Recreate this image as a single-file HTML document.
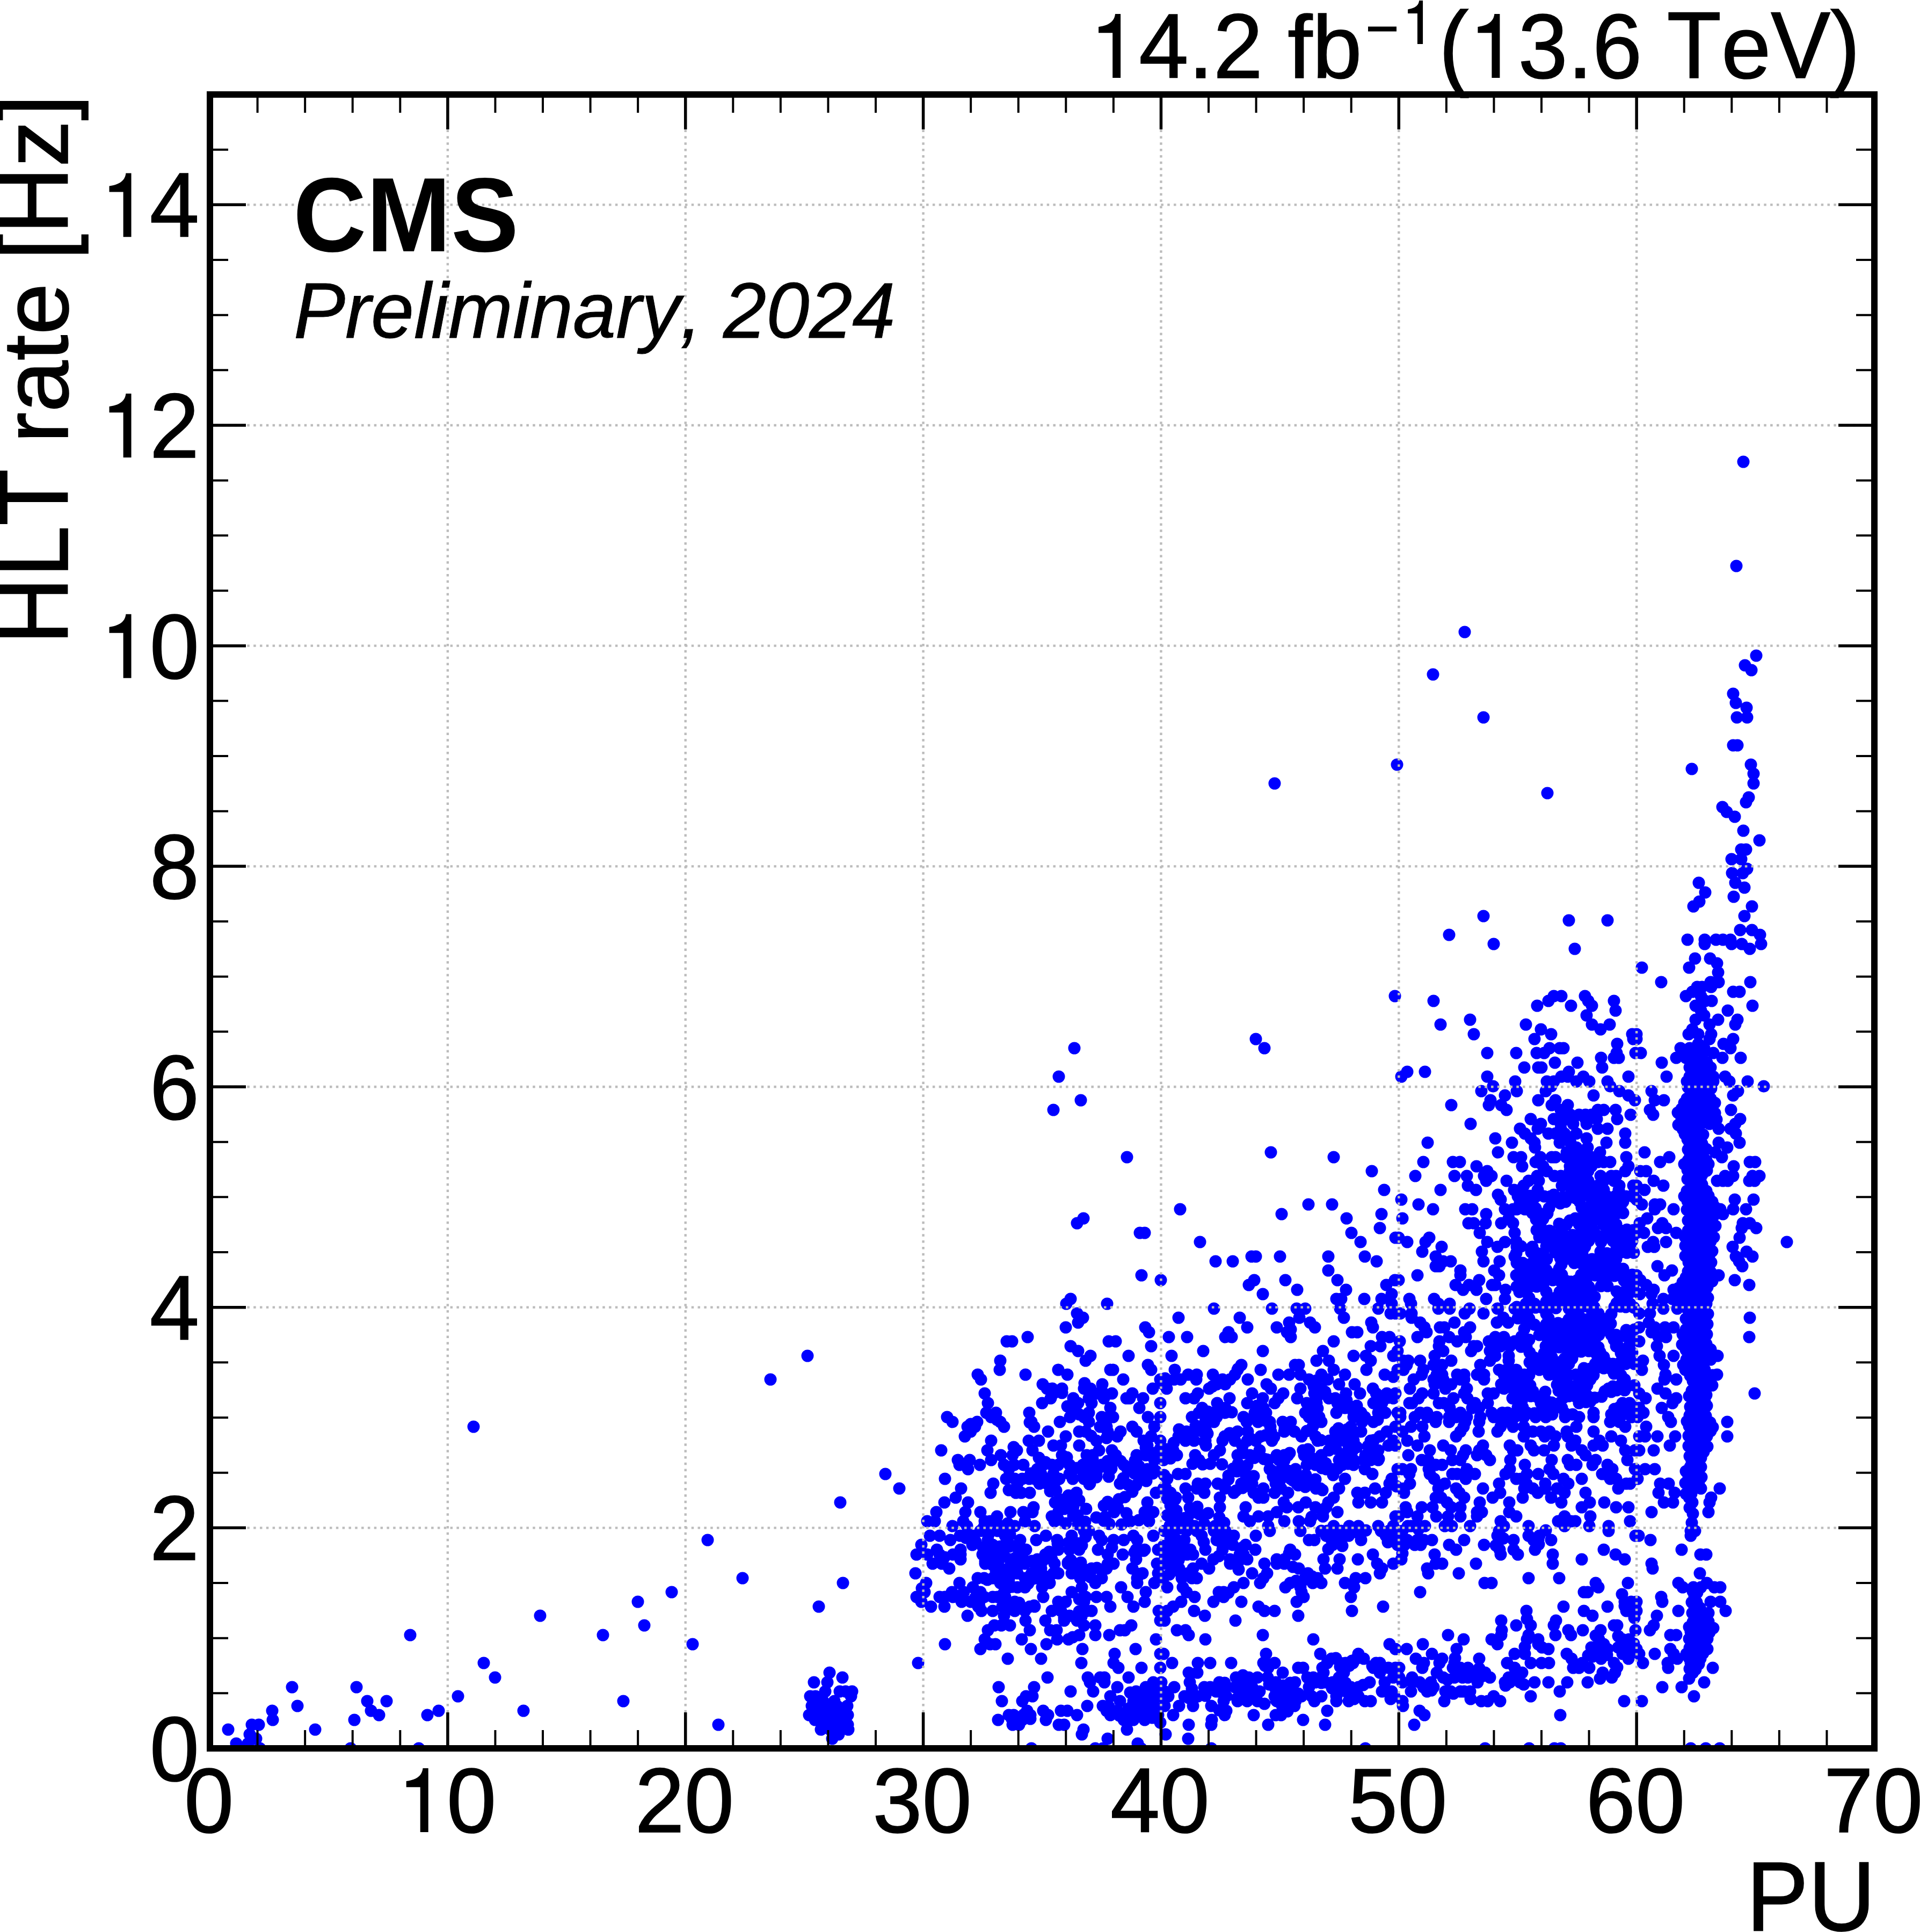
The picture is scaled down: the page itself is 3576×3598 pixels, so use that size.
<!DOCTYPE html>
<html><head><meta charset="utf-8"><title>HLT rate vs PU</title>
<style>html,body{margin:0;padding:0;background:#fff}body{width:3576px;height:3598px;overflow:hidden}svg{display:block}text{font-family:"Liberation Sans",sans-serif;fill:#000;font-kerning:none;font-feature-settings:"kern" 0,"liga" 0;white-space:pre}</style>
</head><body>
<svg width="3576" height="3598" viewBox="0 0 3576 3598">
<rect x="0" y="0" width="3576" height="3598" fill="#fff"/>
<clipPath id="c"><rect x="391.0" y="176.0" width="3100.0" height="3080.0"/></clipPath>
<g clip-path="url(#c)" stroke="#0000ff" stroke-width="23.0" stroke-linecap="round" stroke-linejoin="round">
<path fill="none" d="M882 2657h0M764 3045h0M1006 3009h0M1123 3045h0M901 3097h0M922 3124h0M664 3142h0M853 3159h0M684 3168h0M720 3168h0M1161 3168h0M691 3186h0M817 3186h0M975 3186h0M706 3194h0M796 3194h0M660 3203h0M653 3256h0M780 3256h0M544 3142h0M554 3177h0M507 3186h0M508 3203h0M469 3212h0M482 3212h0M425 3221h0M587 3221h0M465 3230h0M477 3238h0M440 3247h0M462 3247h0M484 3256h0M1504 2525h0M1435 2569h0M1649 2745h0M1675 2772h0M1565 2798h0M1318 2868h0M1383 2939h0M1570 2948h0M1251 2965h0M1188 2983h0M1525 2992h0M1200 3027h0M1290 3062h0M1338 3212h0M1545 3115h0M1569 3124h0M1516 3133h0M1541 3133h0M1537 3150h0M1564 3150h0M1575 3150h0M1587 3150h0M1509 3159h0M1519 3159h0M1585 3159h0M1554 3168h0M1533 3168h0M1578 3177h0M1512 3177h0M1522 3177h0M1507 3194h0M1579 3194h0M1518 3203h0M1579 3212h0M1529 3221h0M1580 3221h0M1562 3230h0M1550 3238h0M1533 3186h0M1548 3186h0M1564 3186h0M1533 3203h0M1548 3203h0M1564 3203h0M1543 3212h0M1559 3212h0M1525 3194h0M1543 3194h0M1562 3194h0M1546 3221h0M1564 3221h0M1552 3230h0M1541 3177h0M1559 3177h0M1710 3097h0M1707 2974h0M1716 2983h0M1705 2930h0M1707 2895h0M1716 2877h0M1760 3062h0M1826 3071h0M1844 3062h0M1854 3062h0M1834 3053h0M1877 3089h0M1920 3071h0M1903 3053h0M1939 3089h0M1951 3124h0M1949 3062h0M1969 3053h0M1990 3053h0M2016 3071h0M2014 3097h0M2076 3080h0M2074 3097h0M2083 3106h0M2115 3071h0M2126 3106h0M2153 3053h0M2161 3080h0M2161 3106h0M2026 3124h0M2049 3124h0M2057 3124h0M2030 3133h0M2057 3133h0M2036 3150h0M2102 3124h0M2081 3142h0M1994 3150h0M1926 3142h0M1860 3142h0M1866 3168h0M1911 3159h0M1923 3159h0M1904 3168h0M1913 3186h0M1919 3194h0M1859 3203h0M1879 3194h0M1888 3194h0M1886 3212h0M1898 3212h0M1904 3203h0M1943 3186h0M1952 3194h0M1948 3203h0M1976 3186h0M1988 3186h0M2006 3194h0M1972 3212h0M1982 3212h0M2025 3177h0M2018 3221h0M2015 3230h0M2063 3238h0M2099 3221h0M2119 3247h0M1921 3256h0M2040 3256h0M2054 3256h0M2125 3256h0M2068 3159h0M2086 3168h0M2054 3177h0M2061 3186h0M2068 3194h0M2081 3186h0M2116 3150h0M2134 3142h0M2148 3133h0M2155 3150h0M2111 3168h0M2130 3168h0M2148 3168h0M2100 3186h0M2118 3186h0M2137 3186h0M2155 3186h0M2093 3203h0M2111 3203h0M2132 3203h0M2157 3194h0M1732 2860h0M1750 2860h0M1770 2868h0M1788 2860h0M1745 2886h0M1750 2895h0M1727 2895h0M1775 2895h0M1789 2886h0M1789 2904h0M1737 2912h0M1754 2912h0M1768 2921h0M1811 2877h0M1812 2860h0M1725 2948h0M1787 2948h0M1722 2965h0M1773 2965h0M1750 2974h0M1760 2974h0M1791 2983h0M1734 2992h0M1759 2992h0M1802 3009h0M1795 2965h0M1826 2851h0M1858 2851h0M1872 2860h0M1840 2868h0M1849 2877h0M1830 2895h0M1844 2895h0M1863 2886h0M1881 2877h0M1900 2868h0M1911 2886h0M1835 2912h0M1849 2912h0M1863 2921h0M1881 2904h0M1900 2904h0M1909 2912h0M1821 2939h0M1833 2939h0M1849 2939h0M1863 2948h0M1879 2939h0M1895 2930h0M1909 2939h0M1923 2930h0M1812 2956h0M1826 2965h0M1808 2983h0M1824 2983h0M1824 2992h0M1833 2974h0M1879 2956h0M1895 2956h0M1909 2956h0M1858 2974h0M1872 2974h0M1890 2983h0M1849 3000h0M1867 2992h0M1870 3009h0M1890 3000h0M1909 3000h0M1918 2992h0M1927 2992h0M1910 3018h0M1918 3036h0M1852 3027h0M1865 3027h0M1881 3027h0M1840 3036h0M1849 2974h0M1930 2868h0M1948 2860h0M1969 2868h0M1971 2886h0M1947 2895h0M1932 2904h0M1927 2912h0M1959 2904h0M1964 2912h0M1939 2921h0M1962 2930h0M1971 2930h0M1932 2939h0M1941 2956h0M1955 2948h0M1943 2974h0M1996 2860h0M1996 2868h0M1992 2886h0M2010 2886h0M1989 2912h0M2003 2912h0M2017 2921h0M1996 2930h0M2012 2939h0M2033 2921h0M2015 2956h0M1996 2965h0M1971 2983h0M1985 2983h0M1959 3000h0M1976 3000h0M1992 3009h0M1982 3018h0M2006 3018h0M1947 3018h0M1956 3036h0M1968 3036h0M2010 3045h0M2019 3027h0M2022 2974h0M2019 2983h0M2024 3000h0M2033 3000h0M2040 3027h0M2040 3045h0M2042 2974h0M2028 2851h0M2047 2860h0M2019 2851h0M2074 2868h0M2093 2868h0M2111 2860h0M2118 2868h0M2148 2860h0M2045 2886h0M2063 2895h0M2091 2895h0M2116 2886h0M2132 2886h0M2116 2904h0M2065 2912h0M2074 2912h0M2061 2921h0M2109 2921h0M2128 2930h0M2155 2912h0M2118 2939h0M2118 2948h0M2157 2930h0M2150 2948h0M2052 2939h0M2040 2948h0M2088 2956h0M2134 2965h0M2100 2974h0M2061 2974h0M2068 2992h0M2111 2992h0M2132 2983h0M2158 3000h0M2161 3018h0M2107 3027h0M2086 3036h0M2095 3036h0M2066 3045h0M2157 2886h0M2006 2446h0M2017 2454h0M2008 2463h0M1985 2472h0M1914 2490h0M1875 2498h0M1885 2498h0M2133 2472h0M2140 2481h0M2065 2498h0M2078 2498h0M2144 2507h0M1994 2507h0M2008 2516h0M2031 2525h0M2022 2534h0M2102 2525h0M1863 2534h0M1862 2551h0M2138 2542h0M2144 2551h0M1971 2551h0M1988 2560h0M2068 2551h0M2073 2551h0M1910 2560h0M1821 2560h0M1827 2569h0M2092 2569h0M1942 2578h0M1950 2586h0M1962 2595h0M1978 2586h0M1941 2613h0M1957 2604h0M2053 2578h0M2019 2586h0M2031 2586h0M2042 2595h0M2056 2595h0M2147 2586h0M2161 2569h0M1834 2595h0M1840 2613h0M1999 2604h0M2008 2613h0M2002 2622h0M2028 2604h0M2033 2613h0M2028 2631h0M2056 2604h0M2068 2622h0M2098 2604h0M2109 2595h0M2104 2604h0M2129 2604h0M2122 2622h0M2161 2613h0M1764 2639h0M1774 2648h0M1917 2631h0M1921 2648h0M1926 2657h0M1837 2631h0M1855 2631h0M1846 2639h0M1863 2648h0M1870 2657h0M1820 2648h0M1802 2657h0M1816 2657h0M1797 2675h0M1808 2666h0M1993 2639h0M1974 2648h0M2019 2639h0M2028 2648h0M2052 2639h0M2065 2639h0M2073 2639h0M2138 2639h0M2161 2639h0M1952 2666h0M2010 2666h0M2022 2666h0M2049 2657h0M2061 2657h0M2063 2666h0M2087 2666h0M2081 2675h0M2109 2657h0M2117 2666h0M2150 2657h0M2144 2675h0M1985 2675h0M2042 2683h0M2130 2683h0M2137 2692h0M2161 2683h0M1846 2683h0M1916 2683h0M1935 2683h0M1923 2701h0M1962 2692h0M1976 2692h0M1978 2710h0M2010 2692h0M1753 2701h0M1839 2701h0M1894 2701h0M1886 2710h0M1864 2710h0M2024 2710h0M2035 2710h0M2047 2701h0M2071 2701h0M2078 2710h0M2072 2719h0M2134 2710h0M2161 2701h0M1784 2719h0M1787 2728h0M1806 2719h0M1803 2736h0M1825 2728h0M1846 2719h0M1870 2728h0M1879 2736h0M1889 2728h0M1906 2728h0M1943 2728h0M1959 2728h0M1971 2728h0M1932 2736h0M1992 2728h0M2017 2728h0M2028 2736h0M2052 2728h0M2116 2719h0M2118 2728h0M2150 2719h0M1992 2745h0M2042 2745h0M2019 2754h0M2030 2763h0M1760 2754h0M1874 2754h0M1890 2754h0M1904 2754h0M1917 2754h0M1939 2745h0M1946 2754h0M1962 2745h0M1973 2754h0M1850 2763h0M1845 2780h0M1790 2772h0M1780 2789h0M1759 2798h0M1803 2798h0M1892 2780h0M1902 2780h0M1918 2780h0M1895 2763h0M1936 2763h0M1950 2763h0M1744 2816h0M1798 2816h0M1826 2816h0M1857 2824h0M1882 2816h0M1906 2816h0M1925 2807h0M1923 2816h0M1727 2833h0M1741 2833h0M1774 2842h0M1794 2833h0M1801 2842h0M1834 2833h0M1844 2833h0M1863 2842h0M1890 2842h0M1909 2833h0M1927 2842h0M1959 2824h0M1964 2833h0M2137 2798h0M2153 2780h0M2132 2816h0M2148 2816h0M2093 2728h0M2100 2736h0M2086 2763h0M2001 1952h0M1972 2005h0M2013 2049h0M1962 2067h0M2099 2155h0M2018 2269h0M2006 2278h0M2123 2296h0M2132 2296h0M2126 2375h0M2162 2384h0M1994 2419h0M1986 2428h0M2062 2428h0M2169 2851h0M2183 2860h0M2176 2877h0M2192 2868h0M2206 2868h0M2171 2895h0M2187 2895h0M2201 2886h0M2217 2886h0M2167 2912h0M2183 2912h0M2196 2921h0M2222 2895h0M2210 2851h0M2238 2860h0M2229 2851h0M2222 2921h0M2238 2912h0M2252 2921h0M2245 2886h0M2260 2904h0M2229 2939h0M2220 2939h0M2201 2939h0M2203 2956h0M2210 2965h0M2225 2974h0M2174 2956h0M2200 2983h0M2185 2992h0M2174 3000h0M2169 3018h0M2224 3000h0M2244 3009h0M2167 2939h0M2268 2860h0M2282 2851h0M2298 2860h0M2266 2868h0M2282 2868h0M2296 2877h0M2277 2886h0M2261 2851h0M2320 2877h0M2339 2860h0M2338 2886h0M2365 2851h0M2309 2895h0M2323 2904h0M2291 2904h0M2291 2912h0M2305 2912h0M2316 2895h0M2355 2912h0M2332 2930h0M2360 2930h0M2353 2939h0M2347 2948h0M2316 2948h0M2298 2956h0M2279 2965h0M2270 2965h0M2279 2974h0M2260 2983h0M2312 2983h0M2301 3018h0M2344 2992h0M2355 3000h0M2374 3000h0M2352 3045h0M2378 2904h0M2392 2904h0M2403 2886h0M2412 2895h0M2378 2912h0M2392 2912h0M2419 2921h0M2436 2930h0M2403 2948h0M2394 2956h0M2422 2956h0M2424 2965h0M2428 2974h0M2415 2983h0M2418 3009h0M2440 2939h0M2454 2939h0M2445 2948h0M2461 2948h0M2431 2939h0M2422 2851h0M2438 2868h0M2448 2868h0M2465 2904h0M2468 2921h0M2495 2904h0M2491 2921h0M2529 2904h0M2505 2948h0M2525 2939h0M2543 2939h0M2522 2956h0M2516 2974h0M2518 3000h0M2576 2992h0M2557 2895h0M2565 2912h0M2574 2921h0M2570 2930h0M2595 2912h0M2535 2868h0M2530 2851h0M2599 2868h0M2603 2877h0M2572 2851h0M2581 2860h0M2595 2851h0M2470 2860h0M2484 2851h0M2498 2851h0M2512 2860h0M2480 2868h0M2496 2868h0M2482 2877h0M2461 2851h0M2192 3036h0M2208 3036h0M2214 3045h0M2245 3053h0M2446 3053h0M2588 3062h0M2599 3071h0M2167 3080h0M2183 3097h0M2231 3097h0M2254 3097h0M2293 3097h0M2214 3115h0M2230 3115h0M2216 3133h0M2187 3142h0M2176 3159h0M2169 3150h0M2163 3133h0M2196 3177h0M2169 3177h0M2185 3194h0M2206 3159h0M2220 3150h0M2231 3159h0M2222 3177h0M2243 3142h0M2254 3142h0M2271 3133h0M2270 3150h0M2284 3142h0M2284 3159h0M2279 3168h0M2284 3186h0M2281 3194h0M2256 3177h0M2257 3203h0M2256 3212h0M2214 3212h0M2171 3230h0M2213 3238h0M2256 3256h0M2302 3124h0M2300 3142h0M2314 3142h0M2326 3124h0M2342 3124h0M2332 3142h0M2346 3150h0M2305 3168h0M2323 3168h0M2342 3168h0M2314 3150h0M2335 3194h0M2358 3080h0M2353 3097h0M2374 3097h0M2362 3106h0M2361 3124h0M2389 3115h0M2376 3133h0M2374 3159h0M2378 3168h0M2392 3142h0M2412 3133h0M2406 3150h0M2392 3159h0M2413 3168h0M2388 3177h0M2411 3177h0M2376 3194h0M2386 3194h0M2362 3212h0M2418 3106h0M2427 3106h0M2435 3124h0M2446 3124h0M2438 3142h0M2424 3159h0M2443 3159h0M2461 3159h0M2448 3168h0M2472 3186h0M2427 3203h0M2468 3212h0M2459 3080h0M2480 3089h0M2472 3097h0M2465 3115h0M2469 3133h0M2496 3097h0M2506 3097h0M2503 3115h0M2494 3124h0M2482 3133h0M2494 3142h0M2489 3159h0M2489 3168h0M2530 3080h0M2526 3089h0M2540 3089h0M2520 3097h0M2563 3097h0M2570 3097h0M2558 3106h0M2570 3115h0M2586 3106h0M2551 3133h0M2579 3133h0M2599 3106h0M2595 3124h0M2516 3142h0M2530 3142h0M2507 3150h0M2530 3159h0M2512 3168h0M2542 3168h0M2553 3168h0M2574 3150h0M2592 3150h0M2597 3159h0M2543 3256h0M2261 2437h0M2369 2437h0M2415 2437h0M2431 2437h0M2496 2437h0M2567 2437h0M2590 2446h0M2599 2446h0M2195 2454h0M2309 2454h0M2323 2472h0M2401 2463h0M2420 2454h0M2440 2463h0M2449 2472h0M2378 2472h0M2397 2481h0M2404 2490h0M2503 2454h0M2554 2463h0M2557 2472h0M2288 2481h0M2282 2490h0M2294 2490h0M2177 2490h0M2211 2490h0M2518 2481h0M2528 2481h0M2574 2490h0M2588 2490h0M2484 2498h0M2553 2507h0M2571 2507h0M2464 2516h0M2241 2516h0M2352 2516h0M2182 2525h0M2521 2525h0M2544 2525h0M2553 2534h0M2595 2525h0M2603 2516h0M2452 2534h0M2475 2534h0M2312 2542h0M2305 2551h0M2412 2542h0M2419 2542h0M2188 2551h0M2348 2551h0M2545 2551h0M2579 2560h0M2603 2551h0M2213 2560h0M2229 2560h0M2187 2569h0M2199 2569h0M2228 2569h0M2259 2560h0M2277 2569h0M2291 2569h0M2300 2560h0M2324 2569h0M2381 2560h0M2401 2560h0M2422 2560h0M2438 2569h0M2461 2560h0M2473 2569h0M2484 2551h0M2505 2560h0M2494 2578h0M2523 2578h0M2167 2578h0M2173 2586h0M2359 2578h0M2367 2586h0M2252 2586h0M2266 2578h0M2282 2578h0M2231 2595h0M2208 2604h0M2224 2604h0M2290 2604h0M2267 2613h0M2332 2595h0M2323 2613h0M2352 2604h0M2353 2622h0M2390 2595h0M2381 2604h0M2374 2613h0M2422 2586h0M2416 2604h0M2434 2613h0M2446 2578h0M2448 2595h0M2461 2586h0M2507 2595h0M2533 2595h0M2475 2604h0M2487 2604h0M2452 2613h0M2448 2631h0M2557 2586h0M2563 2595h0M2583 2595h0M2599 2595h0M2558 2613h0M2574 2613h0M2595 2604h0M2239 2622h0M2233 2631h0M2220 2639h0M2261 2631h0M2282 2631h0M2270 2622h0M2337 2631h0M2358 2631h0M2316 2639h0M2431 2631h0M2438 2639h0M2457 2639h0M2461 2648h0M2489 2631h0M2505 2622h0M2521 2631h0M2535 2631h0M2567 2631h0M2580 2631h0M2603 2631h0M2200 2666h0M2210 2666h0M2224 2666h0M2195 2675h0M2208 2683h0M2224 2683h0M2245 2648h0M2261 2648h0M2240 2666h0M2247 2666h0M2245 2683h0M2246 2692h0M2281 2675h0M2277 2683h0M2305 2666h0M2324 2666h0M2300 2683h0M2323 2683h0M2339 2683h0M2348 2675h0M2343 2648h0M2365 2648h0M2367 2666h0M2389 2648h0M2404 2648h0M2392 2666h0M2411 2666h0M2424 2675h0M2369 2683h0M2450 2675h0M2454 2683h0M2445 2657h0M2487 2666h0M2503 2666h0M2516 2657h0M2535 2666h0M2489 2683h0M2507 2683h0M2521 2683h0M2553 2683h0M2570 2675h0M2583 2666h0M2599 2657h0M2595 2683h0M2521 2639h0M2542 2639h0M2558 2648h0M2567 2701h0M2586 2692h0M2599 2692h0M2185 2701h0M2192 2710h0M2174 2710h0M2167 2719h0M2226 2710h0M2233 2719h0M2272 2701h0M2261 2710h0M2305 2710h0M2328 2710h0M2346 2701h0M2378 2710h0M2392 2710h0M2399 2710h0M2427 2701h0M2438 2701h0M2429 2710h0M2461 2710h0M2475 2701h0M2494 2719h0M2507 2719h0M2521 2719h0M2540 2719h0M2553 2719h0M2567 2719h0M2362 2719h0M2365 2736h0M2413 2736h0M2434 2728h0M2450 2728h0M2470 2736h0M2480 2736h0M2500 2728h0M2521 2728h0M2542 2736h0M2556 2745h0M2505 2754h0M2603 2736h0M2174 2754h0M2194 2745h0M2208 2745h0M2231 2763h0M2245 2763h0M2229 2772h0M2243 2780h0M2167 2772h0M2180 2780h0M2190 2789h0M2213 2789h0M2208 2772h0M2268 2763h0M2282 2772h0M2298 2780h0M2272 2789h0M2272 2807h0M2332 2763h0M2353 2772h0M2335 2780h0M2344 2789h0M2353 2789h0M2376 2763h0M2386 2772h0M2374 2780h0M2399 2780h0M2404 2754h0M2415 2763h0M2429 2763h0M2451 2772h0M2459 2772h0M2494 2772h0M2484 2789h0M2561 2772h0M2528 2780h0M2542 2780h0M2530 2798h0M2553 2798h0M2592 2754h0M2588 2763h0M2581 2780h0M2574 2798h0M2391 2798h0M2397 2807h0M2418 2807h0M2432 2798h0M2450 2807h0M2470 2807h0M2464 2816h0M2491 2816h0M2378 2816h0M2362 2824h0M2344 2824h0M2316 2824h0M2320 2807h0M2392 2833h0M2419 2833h0M2440 2833h0M2464 2824h0M2328 2833h0M2513 2842h0M2484 2842h0M2530 2842h0M2599 2824h0M2595 2842h0M2567 2842h0M2362 2842h0M2367 2146h0M2484 2155h0M2555 2181h0M2578 2216h0M2198 2252h0M2387 2261h0M2437 2243h0M2481 2243h0M2508 2269h0M2573 2261h0M2570 2287h0M2517 2296h0M2534 2313h0M2599 2305h0M2235 2313h0M2264 2349h0M2296 2349h0M2331 2340h0M2339 2340h0M2384 2340h0M2474 2340h0M2542 2340h0M2564 2349h0M2474 2366h0M2491 2384h0M2507 2402h0M2336 2384h0M2326 2393h0M2352 2410h0M2394 2384h0M2416 2402h0M2489 2419h0M2498 2419h0M2541 2419h0M2573 2419h0M2582 2393h0M2598 2384h0M2592 2410h0M2592 2428h0M2628 2842h0M2654 2842h0M2691 2842h0M2704 2842h0M2738 2842h0M2914 2842h0M2960 2842h0M2847 2842h0M2612 2851h0M2621 2868h0M2616 2877h0M2640 2868h0M2646 2877h0M2635 2877h0M2667 2868h0M2610 2904h0M2672 2895h0M2674 2912h0M2686 2912h0M2658 2921h0M2660 2930h0M2699 2877h0M2712 2886h0M2727 2868h0M2717 2930h0M2749 2912h0M2764 2877h0M2789 2860h0M2792 2851h0M2789 2877h0M2793 2886h0M2795 2895h0M2819 2868h0M2819 2886h0M2827 2895h0M2847 2860h0M2856 2868h0M2867 2860h0M2865 2868h0M2859 2886h0M2889 2868h0M2892 2895h0M2892 2912h0M2847 2939h0M2904 2939h0M2765 2948h0M2778 2948h0M2645 2965h0M2946 2904h0M2987 2886h0M3009 2895h0M3026 2904h0M2996 2851h0M3046 2860h0M2972 2948h0M2977 2956h0M2950 2965h0M2957 2965h0M3032 2948h0M3026 2983h0M3038 2983h0M3029 3000h0M3042 3000h0M2994 2992h0M2912 2992h0M2950 3000h0M2966 3009h0M2843 3000h0M2796 3018h0M2797 3036h0M2796 3045h0M2824 3027h0M2851 3027h0M2847 3045h0M2844 3053h0M2898 3018h0M2894 3027h0M2897 3045h0M2921 3036h0M2926 3045h0M2948 3036h0M2981 3036h0M2978 3053h0M3006 3027h0M3012 3027h0M3046 3036h0M2697 3045h0M2726 3053h0M2650 3062h0M2713 3071h0M2778 3053h0M2789 3062h0M2865 3053h0M2865 3062h0M2884 3071h0M2620 3071h0M2821 3080h0M2840 3080h0M2918 3080h0M2927 3089h0M3022 3053h0M3031 3062h0M3042 3071h0M2973 3071h0M2987 3062h0M2994 3071h0M2971 3080h0M2982 3089h0M3022 3080h0M3033 3089h0M2755 3089h0M2637 3089h0M2652 3097h0M2649 3106h0M2667 3080h0M2686 3089h0M2681 3097h0M2676 3115h0M2688 3124h0M2709 3097h0M2706 3106h0M2709 3124h0M2720 3115h0M2734 3106h0M2734 3124h0M2720 3106h0M2748 3115h0M2766 3115h0M2775 3124h0M2752 3133h0M2757 3115h0M2807 3097h0M2821 3106h0M2835 3115h0M2810 3124h0M2851 3097h0M2871 3097h0M2885 3097h0M2930 3106h0M2941 3106h0M2947 3097h0M2960 3106h0M3006 3097h0M2985 3115h0M3008 3115h0M3002 3124h0M2606 3106h0M2606 3124h0M2612 3133h0M2630 3124h0M2644 3133h0M2665 3133h0M2651 3142h0M2670 3142h0M2658 3150h0M2628 3150h0M2692 3150h0M2702 3150h0M2720 3150h0M2727 3150h0M2738 3150h0M2690 3168h0M2803 3133h0M2812 3133h0M2831 3133h0M2858 3133h0M2884 3133h0M2919 3133h0M2957 3133h0M2905 3150h0M2851 3159h0M2782 3159h0M2759 3168h0M2771 3168h0M2794 3168h0M3025 3168h0M2612 3168h0M2613 3177h0M2644 3186h0M2653 3194h0M2634 3212h0M2906 3194h0M2766 3256h0M2848 3256h0M2895 3256h0M2907 3256h0M2608 2446h0M2629 2446h0M2629 2454h0M2645 2463h0M2653 2472h0M2657 2481h0M2640 2490h0M2679 2437h0M2700 2437h0M2728 2446h0M2737 2437h0M2763 2446h0M2790 2437h0M2800 2454h0M2788 2463h0M2809 2463h0M2821 2437h0M2709 2463h0M2682 2472h0M2690 2472h0M2738 2472h0M2727 2481h0M2699 2490h0M2730 2490h0M2681 2498h0M2714 2498h0M2607 2498h0M2680 2507h0M2688 2516h0M2745 2507h0M2751 2507h0M2740 2516h0M2785 2490h0M2801 2490h0M2773 2498h0M2789 2498h0M2806 2498h0M2821 2498h0M2778 2507h0M2795 2507h0M2812 2507h0M2775 2516h0M2785 2525h0M2810 2525h0M2672 2525h0M2703 2534h0M2613 2534h0M2623 2534h0M2645 2534h0M2670 2542h0M2686 2542h0M2757 2542h0M2775 2534h0M2810 2534h0M2614 2551h0M2620 2542h0M2651 2551h0M2648 2560h0M2676 2560h0M2686 2560h0M2714 2560h0M2727 2560h0M2751 2560h0M2764 2560h0M2792 2551h0M2806 2551h0M2824 2551h0M2633 2569h0M2670 2569h0M2688 2569h0M2720 2569h0M2727 2569h0M2764 2569h0M2801 2560h0M2818 2560h0M2796 2578h0M2812 2578h0M2626 2586h0M2672 2578h0M2703 2578h0M2732 2586h0M2649 2595h0M2670 2595h0M2692 2586h0M2771 2595h0M2782 2595h0M2801 2586h0M2817 2604h0M2642 2604h0M2707 2604h0M2727 2595h0M2733 2604h0M2625 2613h0M2630 2613h0M2680 2613h0M2689 2613h0M2747 2613h0M2771 2613h0M2608 2631h0M2645 2631h0M2658 2631h0M2700 2622h0M2720 2631h0M2742 2622h0M2755 2622h0M2778 2631h0M2798 2631h0M2808 2631h0M2635 2639h0M2676 2639h0M2699 2639h0M2732 2639h0M2757 2639h0M2821 2595h0M2824 2578h0M2968 2631h0M3010 2507h0M2996 2586h0M3016 2586h0M2608 2639h0M2658 2639h0M2699 2648h0M2674 2648h0M2712 2639h0M2729 2648h0M2755 2648h0M2754 2666h0M2782 2639h0M2801 2648h0M2821 2639h0M2789 2666h0M2795 2657h0M2818 2657h0M2628 2657h0M2649 2657h0M2612 2666h0M2653 2675h0M2621 2683h0M2712 2675h0M2720 2666h0M2726 2657h0M2640 2692h0M2688 2692h0M2663 2701h0M2702 2701h0M2730 2701h0M2762 2692h0M2755 2701h0M2751 2710h0M2768 2710h0M2775 2719h0M2812 2692h0M2818 2701h0M2623 2710h0M2648 2719h0M2660 2719h0M2674 2728h0M2686 2728h0M2705 2719h0M2720 2719h0M2725 2710h0M2813 2719h0M2812 2736h0M2804 2745h0M2824 2754h0M2612 2736h0M2628 2736h0M2625 2745h0M2661 2736h0M2663 2745h0M2671 2754h0M2705 2745h0M2714 2745h0M2732 2736h0M2747 2745h0M2730 2754h0M2691 2763h0M2679 2772h0M2626 2763h0M2615 2772h0M2615 2780h0M2712 2772h0M2718 2780h0M2727 2789h0M2762 2772h0M2792 2763h0M2794 2780h0M2780 2789h0M2674 2789h0M2684 2789h0M2695 2798h0M2756 2798h0M2811 2798h0M2618 2807h0M2648 2807h0M2668 2807h0M2703 2807h0M2720 2807h0M2751 2816h0M2760 2816h0M2811 2816h0M2621 2816h0M2640 2824h0M2675 2824h0M2697 2824h0M2720 2824h0M2751 2824h0M2795 2833h0M2824 2824h0M2605 2824h0M2622 2842h0M2801 2842h0M2838 2639h0M2860 2639h0M2879 2639h0M2915 2639h0M2941 2639h0M2968 2639h0M2999 2648h0M3016 2648h0M3027 2657h0M3039 2639h0M2936 2657h0M2968 2666h0M2838 2657h0M2855 2666h0M2838 2675h0M2870 2666h0M2886 2666h0M2877 2675h0M2897 2675h0M2918 2666h0M2920 2675h0M2934 2683h0M3001 2675h0M3019 2683h0M2979 2683h0M2968 2692h0M2985 2692h0M2851 2692h0M2857 2701h0M2876 2701h0M2894 2692h0M2927 2692h0M2946 2701h0M2953 2710h0M3027 2701h0M3045 2701h0M2826 2701h0M2890 2719h0M2920 2719h0M2972 2719h0M2994 2728h0M2924 2728h0M2936 2728h0M2966 2728h0M3003 2736h0M3031 2719h0M3045 2736h0M2840 2728h0M2886 2736h0M2865 2745h0M2893 2745h0M2844 2745h0M2833 2754h0M2912 2754h0M2946 2754h0M2984 2745h0M2999 2754h0M3010 2754h0M2921 2763h0M2843 2763h0M2878 2763h0M2900 2772h0M2839 2772h0M2864 2780h0M2878 2772h0M2855 2772h0M3014 2772h0M3029 2763h0M3036 2763h0M2914 2780h0M2953 2780h0M2836 2789h0M2889 2789h0M2908 2798h0M2961 2798h0M2988 2798h0M2946 2807h0M3010 2807h0M3033 2807h0M2914 2824h0M2962 2824h0M2902 2833h0M2926 2833h0M2934 2833h0M3036 2833h0M2996 2842h0M2759 2032h0M2781 2023h0M2803 2040h0M2825 2032h0M2776 2049h0M2773 2058h0M2796 2058h0M2806 2067h0M2703 2058h0M2739 2093h0M2785 2120h0M2816 2128h0M2659 2128h0M2790 2146h0M2819 2155h0M2833 2155h0M2651 2164h0M2706 2164h0M2719 2164h0M2750 2172h0M2770 2181h0M2764 2190h0M2778 2190h0M2768 2199h0M2636 2190h0M2709 2190h0M2732 2190h0M2734 2208h0M2749 2216h0M2806 2199h0M2683 2216h0M2820 2216h0M2790 2225h0M2795 2234h0M2610 2234h0M2642 2243h0M2669 2252h0M2729 2252h0M2742 2252h0M2768 2261h0M2767 2278h0M2803 2252h0M2818 2252h0M2810 2269h0M2612 2269h0M2735 2278h0M2745 2278h0M2796 2278h0M2818 2278h0M2756 2296h0M2821 2296h0M2605 2305h0M2621 2313h0M2662 2305h0M2655 2313h0M2770 2313h0M2789 2322h0M2803 2313h0M2685 2322h0M2649 2331h0M2760 2331h0M2825 2322h0M2674 2340h0M2688 2349h0M2702 2349h0M2674 2358h0M2681 2358h0M2763 2349h0M2793 2349h0M2821 2340h0M2640 2375h0M2720 2366h0M2720 2375h0M2783 2366h0M2792 2375h0M2711 2393h0M2725 2402h0M2736 2393h0M2755 2384h0M2750 2402h0M2779 2393h0M2785 2393h0M2804 2402h0M2625 2419h0M2628 2428h0M2671 2419h0M2679 2428h0M2700 2428h0M2768 2419h0M2737 2437h0M2803 2419h0M2789 2437h0M2605 2384h0M2879 2032h0M2889 2023h0M2968 2040h0M2999 2023h0M3016 2032h0M3033 2040h0M3045 2049h0M2865 2049h0M2897 2049h0M2890 2058h0M2920 2058h0M2976 2067h0M2987 2067h0M3009 2067h0M3037 2076h0M3012 2084h0M2851 2084h0M2870 2093h0M2864 2102h0M2894 2084h0M2907 2067h0M2914 2076h0M2925 2076h0M2941 2076h0M2953 2076h0M2964 2076h0M2918 2084h0M2930 2084h0M2953 2084h0M2974 2084h0M2907 2093h0M2930 2093h0M2955 2093h0M2976 2102h0M2994 2102h0M2831 2102h0M2840 2111h0M2851 2120h0M2858 2128h0M2859 2137h0M2884 2111h0M2897 2111h0M2914 2111h0M2907 2102h0M2936 2111h0M2955 2120h0M2905 2128h0M2918 2120h0M2925 2128h0M3027 2111h0M3027 2128h0M2992 2128h0M2936 2137h0M2957 2137h0M2980 2146h0M2918 2146h0M2930 2146h0M2941 2146h0M2835 2172h0M2869 2155h0M2860 2164h0M2890 2155h0M2897 2155h0M2917 2155h0M2930 2155h0M2947 2155h0M2964 2155h0M2976 2164h0M2987 2164h0M2999 2164h0M3029 2155h0M3033 2172h0M3027 2181h0M2874 2172h0M2881 2181h0M2924 2172h0M2935 2172h0M2953 2172h0M2964 2172h0M2863 2190h0M2895 2190h0M2907 2190h0M2924 2181h0M2941 2181h0M2958 2181h0M2981 2190h0M3001 2190h0M3010 2190h0M2847 2199h0M2838 2208h0M2831 2216h0M2866 2199h0M2916 2199h0M2930 2199h0M2947 2199h0M2958 2199h0M2987 2199h0M3006 2199h0M2909 2208h0M2924 2208h0M2941 2208h0M2976 2208h0M3016 2208h0M2864 2216h0M2860 2225h0M2970 2216h0M2987 2216h0M3015 2216h0M2927 2216h0M2941 2216h0M2953 2216h0M3042 2208h0M2894 2225h0M2927 2225h0M2941 2225h0M2964 2225h0M2987 2225h0M3012 2225h0M3042 2225h0M2838 2225h0M2763 1706h0M2699 1741h0M2782 1758h0M2922 1714h0M2994 1714h0M2933 1767h0M2670 1864h0M2683 1908h0M2738 1899h0M2745 1926h0M2863 1873h0M2884 1864h0M2894 1855h0M2908 1855h0M2926 1873h0M2952 1855h0M2958 1864h0M2965 1873h0M2955 1891h0M2965 1908h0M2981 1917h0M2998 1908h0M3006 1864h0M3009 1882h0M2842 1908h0M2870 1917h0M2889 1926h0M2858 1935h0M3040 1926h0M3042 1935h0M3012 1944h0M3011 1961h0M3015 1970h0M3006 1970h0M2770 1961h0M2824 1961h0M2862 1961h0M2876 1961h0M2886 1952h0M2905 1952h0M2912 1952h0M2896 1979h0M2938 1979h0M2982 1970h0M2984 1988h0M2839 1988h0M2865 1988h0M2871 1988h0M2621 1996h0M2654 1996h0M2610 2005h0M2770 2005h0M2822 2014h0M2881 2014h0M2894 2014h0M2908 2005h0M2922 1996h0M2920 2005h0M2936 2014h0M2949 2005h0M2960 2014h0M2994 2014h0M3033 2005h0M3046 1961h0M3052 2860h0M3074 2868h0M3149 2851h0M3157 2851h0M3149 2860h0M3132 2886h0M3167 2895h0M3178 2895h0M3076 2912h0M3078 2921h0M3166 2930h0M3126 2948h0M3134 2956h0M3179 2948h0M3193 2956h0M3204 2956h0M3154 2956h0M3168 2956h0M3094 2974h0M3096 2983h0M3186 2983h0M3204 2983h0M3214 3000h0M3126 3000h0M3048 2983h0M3048 3000h0M3086 3009h0M3080 3027h0M3073 3036h0M3111 3045h0M3122 3045h0M3111 3071h0M3117 3080h0M3124 3089h0M3082 3080h0M3048 3071h0M3053 3080h0M3060 3097h0M3106 3097h0M3107 3106h0M3190 3106h0M3174 3133h0M3132 3142h0M3096 3142h0M3155 3159h0M3058 3168h0M3149 3256h0M3177 3256h0M3203 3256h0M3053 2446h0M3098 2437h0M3124 2437h0M3073 2446h0M3053 2472h0M3071 2463h0M3082 2472h0M3101 2472h0M3117 2472h0M3076 2481h0M3089 2490h0M3103 2490h0M3053 2498h0M3086 2507h0M3091 2525h0M3117 2525h0M3060 2534h0M3058 2551h0M3099 2542h0M3102 2560h0M3100 2569h0M3122 2569h0M3087 2586h0M3102 2595h0M3053 2595h0M3065 2604h0M3122 2604h0M3115 2613h0M3095 2622h0M3053 2622h0M3061 2631h0M3050 2639h0M3107 2639h0M3112 2648h0M3066 2657h0M3053 2675h0M3064 2675h0M3087 2675h0M3120 2675h0M3110 2692h0M3053 2701h0M3080 2701h0M3064 2736h0M3082 2736h0M3050 2754h0M3092 2763h0M3108 2763h0M3089 2780h0M3119 2780h0M3099 2798h0M3116 2798h0M3076 2816h0M3259 2454h0M3258 2490h0M3268 2595h0M3217 2648h0M3217 2675h0M3203 2772h0M3187 2789h0M3184 2798h0M3182 2816h0M3198 2560h0M3199 2525h0M3076 2032h0M3082 2049h0M3099 2049h0M3073 2067h0M3079 2076h0M3063 2146h0M3109 2155h0M3092 2164h0M3055 2181h0M3066 2181h0M3080 2199h0M3098 2208h0M3048 2208h0M3063 2216h0M3058 2243h0M3082 2243h0M3092 2243h0M3082 2252h0M3117 2252h0M3048 2234h0M3068 2269h0M3096 2278h0M3088 2287h0M3103 2287h0M3122 2296h0M3054 2278h0M3062 2296h0M3048 2296h0M3079 2313h0M3103 2313h0M3069 2322h0M3081 2322h0M3087 2358h0M3114 2366h0M3100 2375h0M3048 2375h0M3055 2384h0M3066 2393h0M3080 2402h0M3054 2410h0M3076 2410h0M3098 2419h0M3117 2402h0M3078 2428h0M3115 2419h0M3285 2023h0M3237 2032h0M3228 2040h0M3224 2067h0M3241 2084h0M3232 2093h0M3223 2102h0M3233 2111h0M3201 2102h0M3240 2128h0M3201 2128h0M3217 2137h0M3207 2155h0M3195 2146h0M3229 2172h0M3259 2164h0M3269 2164h0M3213 2190h0M3228 2190h0M3198 2199h0M3209 2199h0M3218 2199h0M3264 2190h0M3277 2190h0M3258 2199h0M3268 2199h0M3231 2234h0M3266 2234h0M3228 2252h0M3252 2252h0M3204 2252h0M3209 2261h0M3246 2278h0M3259 2278h0M3244 2287h0M3271 2287h0M3240 2305h0M3328 2313h0M3227 2322h0M3253 2331h0M3264 2340h0M3233 2340h0M3239 2349h0M3245 2358h0M3201 2375h0M3231 2384h0M3258 2393h0M3226 1626h0M3246 1626h0M3254 1618h0M3232 1644h0M3249 1653h0M3229 1670h0M3164 1644h0M3176 1662h0M3165 1679h0M3154 1688h0M3263 1688h0M3249 1706h0M3241 1732h0M3263 1732h0M3278 1741h0M3280 1758h0M3143 1750h0M3175 1750h0M3175 1758h0M3196 1750h0M3209 1750h0M3223 1750h0M3225 1758h0M3244 1758h0M3259 1767h0M3157 1785h0M3185 1785h0M3198 1794h0M3146 1802h0M3058 1802h0M3200 1811h0M3201 1829h0M3186 1829h0M3094 1829h0M3260 1829h0M3161 1838h0M3170 1838h0M3187 1838h0M3140 1855h0M3152 1847h0M3168 1855h0M3228 1847h0M3240 1847h0M3176 1864h0M3188 1864h0M3158 1873h0M3168 1882h0M3264 1873h0M3218 1882h0M3174 1891h0M3158 1899h0M3200 1899h0M3236 1899h0M3232 1908h0M3184 1908h0M3152 1917h0M3145 1926h0M3163 1926h0M3187 1926h0M3184 1935h0M3228 1935h0M3048 1926h0M3048 1935h0M3210 1944h0M3223 1952h0M3130 1952h0M3147 1952h0M3163 1944h0M3174 1952h0M3056 1961h0M3122 1970h0M3140 1970h0M3156 1970h0M3172 1961h0M3191 1961h0M3208 1970h0M3242 1970h0M3095 1979h0M3147 1988h0M3163 1988h0M3179 1979h0M3186 1988h0M3104 2005h0M3147 2005h0M3163 2005h0M3177 1996h0M3191 2005h0M3213 2005h0M3142 2014h0M3158 2014h0M3175 2014h0M3191 2014h0M3221 2014h0M3255 2014h0M3247 860h0M3234 1054h0M3271 1221h0M3250 1239h0M3262 1248h0M3228 1292h0M3233 1309h0M3253 1318h0M3235 1336h0M3254 1336h0M3228 1388h0M3236 1388h0M3151 1432h0M3261 1424h0M3266 1441h0M3266 1459h0M3257 1485h0M3252 1494h0M3208 1503h0M3216 1512h0M3231 1521h0M3247 1547h0M3277 1565h0M3243 1582h0M3252 1582h0M3225 1600h0M3243 1600h0M2728 1177h0M2669 1256h0M2763 1336h0M2602 1424h0M2374 1459h0M2882 1477h0M2339 1935h0M2355 1952h0M2598 1855h0M2825 2434h0M2839 2433h0M2850 2434h0M2860 2435h0M2872 2435h0M2884 2433h0M2898 2436h0M2922 2437h0M2934 2435h0M2948 2433h0M2959 2434h0M2969 2434h0M3007 2434h0M3018 2433h0M3028 2434h0M3043 2435h0M2831 2446h0M2844 2445h0M2880 2447h0M2927 2445h0M2938 2446h0M2966 2445h0M2977 2446h0M3001 2447h0M2827 2455h0M2838 2456h0M2848 2456h0M2884 2455h0M2922 2457h0M2935 2457h0M2945 2455h0M2957 2457h0M2972 2454h0M2981 2455h0M2993 2456h0M2845 2464h0M2858 2467h0M2880 2466h0M2890 2467h0M2902 2464h0M2915 2465h0M2927 2464h0M2938 2465h0M2950 2466h0M2962 2468h0M2976 2465h0M2987 2466h0M3000 2465h0M2839 2475h0M2874 2475h0M2886 2478h0M2900 2477h0M2909 2476h0M2921 2478h0M2934 2478h0M2945 2476h0M2959 2478h0M2971 2478h0M2983 2478h0M2993 2477h0M3029 2477h0M3044 2476h0M2834 2489h0M2867 2486h0M2880 2489h0M2893 2487h0M2905 2488h0M2914 2488h0M2930 2488h0M2941 2487h0M2951 2488h0M2963 2488h0M2978 2486h0M3001 2486h0M3010 2486h0M3026 2488h0M3035 2488h0M2828 2498h0M2837 2498h0M2848 2495h0M2886 2499h0M2899 2496h0M2909 2496h0M2921 2498h0M2933 2497h0M2944 2499h0M2957 2497h0M2970 2499h0M3006 2495h0M3041 2497h0M2833 2508h0M2843 2508h0M2879 2507h0M2893 2508h0M2904 2509h0M2918 2508h0M2928 2508h0M2940 2508h0M2952 2508h0M2964 2510h0M2977 2509h0M3013 2506h0M3034 2507h0M2849 2519h0M2876 2520h0M2885 2520h0M2921 2518h0M2934 2518h0M2945 2517h0M2959 2516h0M2970 2518h0M2980 2518h0M3019 2520h0M3028 2517h0M3040 2519h0M2857 2528h0M2867 2530h0M2880 2529h0M2890 2527h0M2914 2530h0M2928 2530h0M2976 2530h0M2987 2527h0M3022 2527h0M3035 2528h0M2849 2537h0M2861 2537h0M2875 2539h0M2885 2539h0M2900 2537h0M2911 2539h0M2922 2540h0M2971 2540h0M2982 2538h0M2992 2537h0M3004 2540h0M3017 2538h0M3028 2540h0M3044 2540h0M2855 2549h0M2867 2551h0M2882 2550h0M2891 2551h0M2903 2549h0M2914 2549h0M2950 2548h0M2962 2549h0M2974 2547h0M2987 2548h0M3000 2549h0M3013 2550h0M2839 2560h0M2848 2561h0M2885 2560h0M2898 2561h0M2911 2561h0M2922 2561h0M2935 2560h0M2945 2558h0M2968 2561h0M3006 2558h0M3019 2561h0M2833 2569h0M2842 2569h0M2905 2571h0M2941 2569h0M2962 2569h0M3026 2569h0M2824 2580h0M2839 2582h0M2850 2580h0M2900 2579h0M2911 2580h0M2924 2581h0M2933 2582h0M2946 2579h0M2956 2580h0M3004 2582h0M3019 2579h0M3032 2581h0M3044 2580h0M2832 2590h0M2846 2591h0M2855 2591h0M2878 2592h0M2903 2590h0M2916 2590h0M2928 2593h0M2942 2592h0M2952 2592h0M2989 2591h0M3001 2592h0M3011 2589h0M3026 2589h0M2825 2602h0M2840 2600h0M2851 2600h0M2862 2601h0M2873 2600h0M2912 2603h0M2922 2600h0M2933 2600h0M2945 2600h0M2957 2600h0M2970 2603h0M2983 2601h0M2834 2610h0M2870 2613h0M2882 2610h0M2890 2612h0M2906 2612h0M2941 2613h0M2954 2611h0M2962 2610h0M3022 2613h0M3035 2613h0M2827 2621h0M2836 2621h0M2874 2622h0M2886 2621h0M2898 2620h0M2909 2622h0M3007 2624h0M3017 2620h0M3029 2622h0M3043 2621h0M2833 2633h0M2844 2631h0M2858 2632h0M2869 2631h0M2879 2634h0M2891 2634h0M2915 2632h0M2929 2634h0M3001 2634h0M3014 2632h0M3023 2634h0M3037 2631h0M2827 2228h0M2838 2228h0M2849 2227h0M2861 2228h0M2876 2228h0M2888 2228h0M2897 2230h0M2911 2229h0M2920 2229h0M2934 2231h0M2945 2228h0M2960 2227h0M2970 2230h0M2983 2227h0M2992 2227h0M3008 2228h0M3019 2231h0M3029 2228h0M3044 2230h0M2831 2240h0M2843 2238h0M2854 2240h0M2891 2239h0M2906 2241h0M2916 2238h0M2942 2238h0M2965 2240h0M2976 2239h0M2987 2239h0M3001 2238h0M3011 2240h0M3023 2238h0M2825 2252h0M2840 2252h0M2849 2248h0M2860 2250h0M2885 2250h0M2946 2249h0M2959 2249h0M2969 2249h0M2981 2251h0M2994 2249h0M3006 2252h0M3018 2249h0M2854 2259h0M2866 2259h0M2882 2260h0M2951 2260h0M2963 2259h0M2975 2261h0M2989 2259h0M2998 2260h0M3013 2259h0M3023 2259h0M2861 2271h0M2874 2270h0M2924 2273h0M2934 2269h0M2947 2269h0M2956 2272h0M2970 2272h0M2982 2272h0M2994 2269h0M3004 2271h0M2869 2283h0M2904 2279h0M2918 2280h0M2941 2280h0M2953 2280h0M2964 2282h0M2987 2281h0M3010 2280h0M2862 2291h0M2874 2292h0M2886 2292h0M2908 2292h0M2946 2290h0M2958 2290h0M2968 2291h0M3006 2290h0M3019 2292h0M3030 2290h0M3042 2291h0M2867 2304h0M2880 2304h0M2894 2300h0M2905 2304h0M2914 2301h0M2929 2300h0M2942 2301h0M2953 2300h0M2964 2303h0M2975 2301h0M2988 2301h0M2998 2300h0M3011 2304h0M3025 2303h0M3035 2303h0M2824 2312h0M2886 2312h0M2899 2311h0M2912 2312h0M2921 2313h0M2934 2311h0M2947 2310h0M2959 2311h0M2982 2313h0M3004 2311h0M3018 2312h0M3030 2314h0M3040 2311h0M2833 2321h0M2854 2322h0M2880 2321h0M2892 2322h0M2902 2324h0M2915 2321h0M2926 2323h0M2942 2324h0M2952 2322h0M3011 2324h0M3022 2323h0M3036 2322h0M2824 2334h0M2852 2332h0M2861 2333h0M2874 2334h0M2897 2332h0M2908 2334h0M2923 2334h0M2932 2334h0M2947 2333h0M2981 2331h0M2993 2334h0M3007 2334h0M3019 2332h0M3030 2333h0M3043 2333h0M2858 2341h0M2867 2342h0M2881 2345h0M2906 2343h0M2915 2345h0M2928 2344h0M2941 2345h0M2952 2345h0M2965 2345h0M2976 2344h0M2988 2342h0M2999 2344h0M3010 2345h0M2825 2352h0M2836 2352h0M2851 2354h0M2863 2355h0M2872 2354h0M2908 2355h0M2932 2352h0M2944 2352h0M2959 2355h0M2970 2355h0M2982 2353h0M2992 2352h0M3007 2352h0M2832 2363h0M2846 2364h0M2857 2365h0M2866 2364h0M2880 2365h0M2904 2363h0M2953 2366h0M2962 2364h0M2976 2365h0M2987 2364h0M2999 2365h0M3011 2366h0M3023 2363h0M2824 2375h0M2836 2376h0M2851 2376h0M2862 2374h0M2874 2374h0M2888 2373h0M2900 2373h0M2909 2374h0M2945 2374h0M2958 2376h0M2971 2375h0M2981 2374h0M2993 2376h0M3007 2376h0M3017 2374h0M3031 2375h0M3040 2374h0M2834 2384h0M2843 2384h0M2857 2386h0M2867 2384h0M2879 2384h0M2892 2384h0M2903 2384h0M2918 2386h0M2926 2387h0M2938 2384h0M2954 2386h0M2986 2384h0M3025 2385h0M3036 2385h0M2825 2396h0M2838 2396h0M2852 2395h0M2862 2396h0M2874 2394h0M2911 2396h0M2923 2395h0M2933 2396h0M2944 2395h0M2959 2396h0M2982 2395h0M2994 2395h0M3031 2395h0M3042 2397h0M2830 2406h0M2843 2407h0M2880 2406h0M2905 2406h0M2916 2408h0M2927 2406h0M2940 2407h0M2950 2408h0M2963 2404h0M3011 2405h0M3023 2407h0M3038 2406h0M2848 2417h0M2885 2418h0M2897 2417h0M2911 2417h0M2922 2415h0M2934 2415h0M2947 2416h0M2959 2415h0M2970 2415h0M3017 2416h0M3030 2417h0M2842 2428h0M2858 2428h0M2880 2424h0M2890 2428h0M2905 2425h0M2914 2425h0M2927 2428h0M2954 2428h0M2963 2428h0M3011 2427h0M3024 2427h0M3036 2428h0M1831 2882h0M1844 2880h0M1863 2880h0M1880 2880h0M1896 2884h0M1839 2902h0M1850 2902h0M1871 2899h0M1890 2902h0M1904 2898h0M1835 2908h0M1848 2914h0M1859 2914h0M1882 2917h0M1895 2918h0M1855 2927h0M1876 2922h0M1890 2928h0M1862 2945h0M1879 2941h0M1872 2958h0M1885 2955h0M1970 2875h0M1991 2873h0M2007 2874h0M1989 2910h0M2006 2916h0M1999 2929h0M2012 2924h0M2114 3152h0M2134 3154h0M2145 3153h0M2112 3166h0M2120 3164h0M2136 3162h0M2104 3181h0M2118 3183h0M2137 3181h0M2150 3181h0M2110 3195h0M2126 3191h0M2143 3194h0M1956 2777h0M1967 2776h0M1990 2785h0M2005 2780h0M1965 2798h0M1979 2793h0M1993 2794h0M2010 2794h0M1972 2814h0M1982 2810h0M1999 2806h0M2023 2810h0M1999 2823h0M2007 2822h0M2063 2797h0M2084 2792h0M2095 2788h0M2056 2804h0M2067 2802h0M2082 2808h0M2042 2826h0M2058 2825h0M2075 2816h0M2098 2818h0M2056 2832h0M2066 2838h0M2089 2839h0M2121 2730h0M2137 2736h0M2152 2739h0M2092 2753h0M2113 2744h0M2122 2750h0M2147 2744h0M2101 2765h0M2116 2766h0M2135 2758h0M2109 2778h0M2005 2734h0M2018 2735h0M2037 2733h0M2056 2731h0M2070 2735h0M2018 2749h0M2031 2744h0M2042 2751h0M2065 2750h0M1985 2837h0M2008 2839h0M2021 2834h0M2105 2833h0M2121 2831h0M2140 2833h0M2180 2866h0M2189 2866h0M2185 2884h0M2205 2887h0M2173 2900h0M2197 2901h0M2211 2895h0M2189 2914h0M2276 2875h0M2289 2867h0M2471 2860h0M2484 2859h0M2508 2854h0M2375 3144h0M2390 3139h0M2404 3144h0M2385 3156h0M2394 3159h0M2418 3154h0M2408 3174h0M2304 3163h0M2316 3164h0M2330 3160h0M2481 3144h0M2499 3143h0M2516 3142h0M2489 3152h0M2514 3155h0M2522 3158h0M2174 2791h0M2189 2792h0M2180 2804h0M2191 2813h0M2216 2808h0M2230 2806h0M2174 2822h0M2192 2825h0M2207 2827h0M2218 2818h0M2234 2820h0M2250 2818h0M2271 2826h0M2179 2841h0M2200 2833h0M2213 2836h0M2225 2842h0M2243 2838h0M2263 2842h0M2280 2836h0M2276 2727h0M2297 2735h0M2306 2726h0M2323 2729h0M2288 2748h0M2304 2740h0M2320 2746h0M2335 2749h0M2288 2755h0M2312 2763h0M2327 2757h0M2302 2776h0M2314 2771h0M2221 2726h0M2240 2727h0M2254 2726h0M2493 2660h0M2510 2662h0M2520 2670h0M2481 2684h0M2504 2683h0M2513 2679h0M2488 2698h0M2512 2695h0M2524 2692h0M2503 2708h0M2518 2704h0M2437 2716h0M2458 2721h0M2469 2725h0M2462 2734h0M2359 2718h0M2382 2719h0M2392 2720h0M2369 2739h0M2383 2740h0M2399 2739h0M2403 2748h0M2418 2748h0M2432 2747h0M2450 2755h0M2431 2769h0M2439 2763h0M2438 2569h0M2452 2571h0M2447 2582h0M2461 2586h0M2527 2695h0M2550 2700h0M2560 2699h0M2543 2711h0M2556 2710h0M2568 2717h0M2173 2699h0M2184 2698h0M2180 2716h0M2196 2662h0M2216 2667h0M2210 2680h0M2221 2675h0M2358 2646h0M2366 2657h0M2437 2618h0M2454 2623h0M2442 2629h0M2454 2648h0M3153 2964h0M3161 2966h0M3156 2973h0M3151 2984h0M3160 2984h0M3156 2993h0M3166 2994h0M3152 3004h0M3161 3004h0M3173 3004h0M3182 3004h0M3158 3012h0M3168 3012h0M3179 3010h0M3153 3021h0M3161 3020h0M3172 3023h0M3182 3020h0M3146 3030h0M3155 3032h0M3168 3032h0M3179 3030h0M3191 3032h0M3149 3039h0M3162 3041h0M3172 3039h0M3184 3040h0M3146 3052h0M3155 3051h0M3169 3049h0M3180 3052h0M3151 3060h0M3164 3060h0M3173 3062h0M3147 3069h0M3156 3069h0M3167 3071h0M3180 3071h0M3141 3080h0M3149 3079h0M3164 3081h0M3172 3079h0M3146 3088h0M3157 3087h0M3167 3089h0M3149 3097h0M3164 3099h0M3147 3108h0M3158 3109h0M3153 3115h0M3146 3126h0M3141 2436h0M3152 2439h0M3163 2436h0M3174 2437h0M3148 2446h0M3156 2447h0M3167 2447h0M3181 2447h0M3140 2456h0M3152 2455h0M3161 2455h0M3173 2456h0M3145 2465h0M3156 2466h0M3170 2466h0M3180 2466h0M3140 2476h0M3152 2476h0M3163 2475h0M3173 2474h0M3134 2485h0M3146 2485h0M3155 2484h0M3170 2484h0M3179 2485h0M3140 2496h0M3151 2496h0M3161 2493h0M3175 2494h0M3133 2504h0M3146 2505h0M3156 2503h0M3170 2505h0M3178 2503h0M3140 2514h0M3152 2515h0M3164 2514h0M3175 2514h0M3186 2513h0M3147 2524h0M3159 2522h0M3170 2521h0M3180 2523h0M3190 2525h0M3141 2532h0M3153 2534h0M3163 2532h0M3174 2532h0M3186 2532h0M3135 2542h0M3146 2541h0M3158 2544h0M3168 2542h0M3139 2551h0M3150 2552h0M3163 2550h0M3175 2551h0M3148 2562h0M3159 2560h0M3168 2563h0M3177 2559h0M3190 2561h0M3153 2572h0M3163 2573h0M3174 2571h0M3185 2570h0M3157 2581h0M3168 2582h0M3180 2580h0M3189 2580h0M3151 2590h0M3163 2591h0M3176 2590h0M3146 2600h0M3159 2599h0M3168 2600h0M3178 2598h0M3154 2610h0M3163 2607h0M3175 2610h0M3148 2620h0M3159 2618h0M3167 2618h0M3179 2618h0M3150 2626h0M3163 2628h0M3173 2630h0M3147 2636h0M3157 2638h0M3167 2638h0M3177 2637h0M3142 2647h0M3152 2646h0M3163 2647h0M3173 2648h0M3185 2649h0M3146 2656h0M3156 2655h0M3169 2655h0M3178 2655h0M3190 2658h0M3152 2667h0M3161 2664h0M3175 2665h0M3186 2665h0M3145 2674h0M3156 2677h0M3168 2675h0M3179 2675h0M3150 2686h0M3163 2687h0M3174 2686h0M3145 2693h0M3159 2696h0M3168 2696h0M3180 2694h0M3152 2706h0M3163 2706h0M3173 2704h0M3147 2712h0M3156 2715h0M3168 2715h0M3151 2722h0M3162 2722h0M3148 2732h0M3157 2731h0M3168 2732h0M3140 2740h0M3150 2743h0M3162 2741h0M3145 2751h0M3156 2750h0M3169 2751h0M3139 2762h0M3150 2760h0M3164 2760h0M3146 2772h0M3158 2769h0M3168 2772h0M3140 2782h0M3150 2782h0M3146 2789h0M3152 2798h0M3147 2808h0M3153 2819h0M3151 2836h0M3144 2025h0M3156 2025h0M3166 2026h0M3176 2027h0M3187 2027h0M3150 2035h0M3160 2034h0M3170 2037h0M3182 2036h0M3142 2046h0M3154 2045h0M3165 2044h0M3176 2044h0M3186 2046h0M3137 2054h0M3151 2056h0M3162 2056h0M3170 2054h0M3180 2056h0M3194 2054h0M3132 2065h0M3144 2063h0M3156 2064h0M3166 2063h0M3175 2066h0M3189 2065h0M3125 2072h0M3137 2073h0M3148 2074h0M3158 2073h0M3172 2073h0M3184 2074h0M3194 2073h0M3132 2084h0M3143 2082h0M3156 2085h0M3165 2082h0M3178 2084h0M3186 2082h0M3197 2085h0M3126 2095h0M3139 2091h0M3150 2093h0M3161 2094h0M3170 2091h0M3184 2093h0M3134 2103h0M3145 2104h0M3155 2102h0M3164 2103h0M3138 2112h0M3151 2110h0M3161 2110h0M3172 2113h0M3143 2122h0M3157 2122h0M3166 2121h0M3147 2130h0M3160 2130h0M3170 2130h0M3144 2141h0M3154 2140h0M3166 2140h0M3178 2140h0M3148 2152h0M3159 2150h0M3170 2151h0M3144 2161h0M3153 2160h0M3166 2160h0M3178 2161h0M3137 2168h0M3149 2168h0M3158 2168h0M3170 2170h0M3182 2168h0M3143 2179h0M3154 2177h0M3164 2177h0M3179 2180h0M3148 2189h0M3162 2188h0M3170 2188h0M3143 2196h0M3155 2196h0M3167 2198h0M3150 2209h0M3161 2206h0M3170 2206h0M3142 2218h0M3156 2216h0M3164 2217h0M3178 2218h0M3137 2228h0M3150 2227h0M3160 2225h0M3172 2226h0M3182 2227h0M3143 2237h0M3154 2234h0M3166 2236h0M3178 2237h0M3189 2238h0M3149 2245h0M3159 2245h0M3172 2244h0M3183 2244h0M3193 2247h0M3142 2253h0M3154 2254h0M3167 2253h0M3178 2256h0M3189 2255h0M3198 2256h0M3149 2264h0M3160 2264h0M3172 2266h0M3184 2263h0M3192 2264h0M3144 2273h0M3154 2272h0M3165 2274h0M3179 2276h0M3189 2276h0M3151 2284h0M3161 2282h0M3172 2284h0M3181 2284h0M3195 2283h0M3144 2292h0M3154 2295h0M3164 2292h0M3177 2293h0M3186 2294h0M3138 2303h0M3149 2303h0M3160 2302h0M3170 2301h0M3184 2303h0M3192 2304h0M3143 2310h0M3155 2311h0M3166 2312h0M3176 2312h0M3186 2312h0M3139 2320h0M3149 2320h0M3160 2323h0M3171 2322h0M3183 2320h0M3146 2332h0M3153 2332h0M3165 2330h0M3178 2331h0M3189 2330h0M3139 2339h0M3148 2340h0M3158 2341h0M3170 2340h0M3183 2340h0M3145 2351h0M3156 2350h0M3167 2352h0M3175 2351h0M3187 2351h0M3150 2361h0M3159 2359h0M3172 2362h0M3183 2358h0M3144 2368h0M3155 2370h0M3164 2371h0M3177 2368h0M3186 2369h0M3140 2379h0M3148 2377h0M3159 2380h0M3170 2379h0M3181 2380h0M3193 2377h0M3134 2388h0M3144 2390h0M3156 2386h0M3165 2387h0M3177 2390h0M3189 2386h0M3126 2399h0M3139 2397h0M3149 2396h0M3162 2397h0M3173 2398h0M3180 2397h0M3132 2409h0M3144 2406h0M3153 2407h0M3166 2408h0M3176 2407h0M3125 2417h0M3138 2415h0M3149 2419h0M3158 2415h0M3172 2416h0M3181 2417h0M3132 2427h0M3144 2428h0M3157 2424h0M3166 2428h0M3178 2428h0M3158 1955h0M3147 1966h0M3168 1972h0M3161 1984h0M3171 1985h0M3151 1997h0M3166 1995h0M3182 1996h0M3152 2009h0M3171 2016h0M3189 2010h0M1907 3193h0M1885 3202h0M1919 3201h0M2065 3178h0M2085 3195h0M2105 3152h0M2115 3186h0M2156 3196h0M2094 3192h0M2146 3199h0M2161 3208h0M1799 2864h0M1759 2900h0M1789 2895h0M1757 2903h0M1817 2871h0M1717 2958h0M1775 2974h0M1833 2843h0M1866 2844h0M1881 2858h0M1841 2858h0M1857 2883h0M1836 2888h0M1857 2924h0M1886 2915h0M1922 2907h0M1839 2942h0M1860 2937h0M1915 2949h0M1924 2940h0M1816 2976h0M1822 2992h0M1828 3000h0M1870 2966h0M1898 2985h0M1883 2993h0M1926 2990h0M1954 2890h0M1942 2907h0M1921 2931h0M1945 2935h0M1990 2873h0M2015 2878h0M1994 2905h0M2013 2910h0M2043 2920h0M1982 3013h0M2014 3011h0M1998 3049h0M2010 2978h0M2010 3001h0M2052 2868h0M2022 2862h0M2071 2882h0M2130 2888h0M2113 2891h0M2063 2913h0M2120 2931h0M2163 2935h0M2031 2937h0M2167 2879h0M2179 2875h0M2204 2878h0M2170 2900h0M2195 2906h0M2185 2925h0M2197 2846h0M2242 2872h0M2213 2930h0M2178 2932h0M2278 2864h0M2285 2865h0M2270 2898h0M2268 2861h0M2307 2923h0M2314 2882h0M2288 2966h0M2401 2893h0M2408 2918h0M2414 2944h0M2426 2944h0M2444 2936h0M2522 2853h0M2605 2855h0M2585 2872h0M2472 2851h0M2486 2867h0M2490 2862h0M2511 2850h0M2500 2879h0M2474 2885h0M2220 3145h0M2168 3163h0M2214 3162h0M2245 3158h0M2244 3154h0M2265 3150h0M2272 3141h0M2281 3134h0M2278 3145h0M2271 3185h0M2322 3146h0M2315 3120h0M2336 3151h0M2355 3173h0M2362 3100h0M2356 3102h0M2364 3137h0M2377 3167h0M2403 3134h0M2404 3160h0M2398 3187h0M2450 3133h0M2463 3106h0M2461 3134h0M2488 3088h0M2518 3093h0M2496 3104h0M2494 3133h0M2530 3080h0M2513 3102h0M2556 3103h0M2568 3100h0M2506 3134h0M2539 3138h0M2518 3158h0M2522 3164h0M2590 3164h0M1960 2586h0M1978 2594h0M2020 2576h0M2071 2595h0M2170 2567h0M1988 2619h0M1918 2649h0M1857 2644h0M1808 2652h0M2010 2634h0M2032 2674h0M2061 2678h0M2161 2698h0M1987 2714h0M1888 2695h0M2035 2717h0M2063 2721h0M2134 2696h0M2171 2710h0M1880 2732h0M1935 2715h0M1947 2723h0M1926 2743h0M2027 2733h0M2117 2710h0M2114 2720h0M2148 2706h0M1998 2754h0M2029 2764h0M1920 2744h0M1927 2754h0M1955 2754h0M1965 2760h0M1879 2775h0M1937 2752h0M1962 2768h0M1877 2837h0M1971 2830h0M2087 2721h0M2404 2476h0M2595 2564h0M2306 2549h0M2258 2582h0M2271 2622h0M2348 2618h0M2350 2630h0M2444 2617h0M2468 2592h0M2508 2608h0M2491 2613h0M2453 2602h0M2585 2603h0M2581 2601h0M2247 2635h0M2250 2629h0M2294 2630h0M2282 2622h0M2341 2618h0M2322 2648h0M2439 2622h0M2452 2646h0M2527 2618h0M2566 2644h0M2569 2632h0M2227 2655h0M2212 2675h0M2266 2639h0M2249 2670h0M2243 2685h0M2290 2669h0M2314 2693h0M2329 2679h0M2362 2674h0M2335 2641h0M2355 2645h0M2357 2673h0M2393 2660h0M2403 2661h0M2373 2676h0M2460 2682h0M2434 2665h0M2504 2674h0M2509 2662h0M2476 2683h0M2548 2693h0M2559 2682h0M2537 2648h0M2559 2709h0M2186 2687h0M2164 2710h0M2316 2706h0M2336 2715h0M2402 2706h0M2436 2699h0M2506 2711h0M2544 2710h0M2555 2713h0M2354 2717h0M2371 2750h0M2444 2716h0M2459 2729h0M2483 2747h0M2491 2735h0M2511 2726h0M2168 2747h0M2241 2768h0M2171 2771h0M2321 2767h0M2384 2756h0M2384 2757h0M2408 2757h0M2418 2766h0M2463 2775h0M2589 2764h0M2601 2768h0M2474 2798h0M2443 2825h0M2485 2851h0M2544 2850h0M2587 2851h0M2642 2848h0M2640 2845h0M2612 2893h0M2652 2868h0M2800 2865h0M2786 2878h0M2866 2876h0M2879 2850h0M3021 2969h0M3046 2988h0M3026 2991h0M3044 3013h0M2844 3015h0M2840 3067h0M2972 3046h0M2872 3068h0M3014 3047h0M3034 3053h0M3043 3061h0M2964 3068h0M2958 3083h0M2993 3082h0M2966 3085h0M3014 3068h0M2710 3088h0M2696 3128h0M2724 3124h0M2755 3107h0M2762 3121h0M2826 3118h0M2940 3100h0M3012 3105h0M2980 3126h0M2599 3119h0M2630 3133h0M2661 3148h0M2666 3148h0M2707 3154h0M2739 3164h0M2804 3139h0M2838 3137h0"/>
<path fill="#0000ff" d=""/>
</g>
<g stroke="#bcbcbc" stroke-width="4.4" stroke-dasharray="4.5 7.32" fill="none">
<line x1="833.86" y1="3260.2" x2="833.86" y2="176.0"/>
<line x1="1276.71" y1="3260.2" x2="1276.71" y2="176.0"/>
<line x1="1719.57" y1="3260.2" x2="1719.57" y2="176.0"/>
<line x1="2162.43" y1="3260.2" x2="2162.43" y2="176.0"/>
<line x1="2605.29" y1="3260.2" x2="2605.29" y2="176.0"/>
<line x1="3048.14" y1="3260.2" x2="3048.14" y2="176.0"/>
<line x1="389.4" y1="2845.33" x2="3491.0" y2="2845.33"/>
<line x1="389.4" y1="2434.67" x2="3491.0" y2="2434.67"/>
<line x1="389.4" y1="2024.00" x2="3491.0" y2="2024.00"/>
<line x1="389.4" y1="1613.33" x2="3491.0" y2="1613.33"/>
<line x1="389.4" y1="1202.67" x2="3491.0" y2="1202.67"/>
<line x1="389.4" y1="792.00" x2="3491.0" y2="792.00"/>
<line x1="389.4" y1="381.33" x2="3491.0" y2="381.33"/>
</g>
<g stroke="#000" fill="none">
<path stroke-width="5.5" d="M833.86 3256.0v-67M833.86 176.0v65M1276.71 3256.0v-67M1276.71 176.0v65M1719.57 3256.0v-67M1719.57 176.0v65M2162.43 3256.0v-67M2162.43 176.0v65M2605.29 3256.0v-67M2605.29 176.0v65M3048.14 3256.0v-67M3048.14 176.0v65M391.0 2845.33h67M3491.0 2845.33h-67M391.0 2434.67h67M3491.0 2434.67h-67M391.0 2024.00h67M3491.0 2024.00h-67M391.0 1613.33h67M3491.0 1613.33h-67M391.0 1202.67h67M3491.0 1202.67h-67M391.0 792.00h67M3491.0 792.00h-67M391.0 381.33h67M3491.0 381.33h-67"/>
<path stroke-width="4" d="M479.57 3256.0v-34M479.57 176.0v34M568.14 3256.0v-34M568.14 176.0v34M656.71 3256.0v-34M656.71 176.0v34M745.29 3256.0v-34M745.29 176.0v34M922.43 3256.0v-34M922.43 176.0v34M1011.00 3256.0v-34M1011.00 176.0v34M1099.57 3256.0v-34M1099.57 176.0v34M1188.14 3256.0v-34M1188.14 176.0v34M1365.29 3256.0v-34M1365.29 176.0v34M1453.86 3256.0v-34M1453.86 176.0v34M1542.43 3256.0v-34M1542.43 176.0v34M1631.00 3256.0v-34M1631.00 176.0v34M1808.14 3256.0v-34M1808.14 176.0v34M1896.71 3256.0v-34M1896.71 176.0v34M1985.29 3256.0v-34M1985.29 176.0v34M2073.86 3256.0v-34M2073.86 176.0v34M2251.00 3256.0v-34M2251.00 176.0v34M2339.57 3256.0v-34M2339.57 176.0v34M2428.14 3256.0v-34M2428.14 176.0v34M2516.71 3256.0v-34M2516.71 176.0v34M2693.86 3256.0v-34M2693.86 176.0v34M2782.43 3256.0v-34M2782.43 176.0v34M2871.00 3256.0v-34M2871.00 176.0v34M2959.57 3256.0v-34M2959.57 176.0v34M3136.71 3256.0v-34M3136.71 176.0v34M3225.29 3256.0v-34M3225.29 176.0v34M3313.86 3256.0v-34M3313.86 176.0v34M3402.43 3256.0v-34M3402.43 176.0v34M391.0 3153.33h34M3491.0 3153.33h-34M391.0 3050.67h34M3491.0 3050.67h-34M391.0 2948.00h34M3491.0 2948.00h-34M391.0 2742.67h34M3491.0 2742.67h-34M391.0 2640.00h34M3491.0 2640.00h-34M391.0 2537.33h34M3491.0 2537.33h-34M391.0 2332.00h34M3491.0 2332.00h-34M391.0 2229.33h34M3491.0 2229.33h-34M391.0 2126.67h34M3491.0 2126.67h-34M391.0 1921.33h34M3491.0 1921.33h-34M391.0 1818.67h34M3491.0 1818.67h-34M391.0 1716.00h34M3491.0 1716.00h-34M391.0 1510.67h34M3491.0 1510.67h-34M391.0 1408.00h34M3491.0 1408.00h-34M391.0 1305.33h34M3491.0 1305.33h-34M391.0 1100.00h34M3491.0 1100.00h-34M391.0 997.33h34M3491.0 997.33h-34M391.0 894.67h34M3491.0 894.67h-34M391.0 689.33h34M3491.0 689.33h-34M391.0 586.67h34M3491.0 586.67h-34M391.0 484.00h34M3491.0 484.00h-34M391.0 278.67h34M3491.0 278.67h-34M391.0 176.00h34M3491.0 176.00h-34"/>
<rect x="391.0" y="176.0" width="3100.0" height="3080.0" stroke-width="12"/>
</g>
<g transform="translate(342.9 3412.0) scale(1 1.025)"><text font-size="166" stroke="#000" stroke-width="1.6" >0</text></g>
<path d="M797.7 3412.0L797.7 3293.1L787.5 3293.1C786.5 3303.3 780.2 3314.1 756.7 3317.1L756.7 3328.2L782.7 3328.2L782.7 3412.0Z" fill="#000"/><g transform="translate(831.9 3412.0) scale(1 1.025)"><text font-size="166" stroke="#000" stroke-width="1.6" >0</text></g>
<g transform="translate(1182.4 3412.0) scale(1 1.025)"><text font-size="166" stroke="#000" stroke-width="1.6" >20</text></g>
<g transform="translate(1625.3 3412.0) scale(1 1.025)"><text font-size="166" stroke="#000" stroke-width="1.6" >30</text></g>
<g transform="translate(2068.1 3412.0) scale(1 1.025)"><text font-size="166" stroke="#000" stroke-width="1.6" >40</text></g>
<g transform="translate(2511.0 3412.0) scale(1 1.025)"><text font-size="166" stroke="#000" stroke-width="1.6" >50</text></g>
<g transform="translate(2953.8 3412.0) scale(1 1.025)"><text font-size="166" stroke="#000" stroke-width="1.6" >60</text></g>
<g transform="translate(3396.7 3412.0) scale(1 1.025)"><text font-size="166" stroke="#000" stroke-width="1.6" >70</text></g>
<g transform="translate(278.7 3316.0) scale(1 1.025)"><text font-size="166" stroke="#000" stroke-width="1.6" >0</text></g>
<g transform="translate(278.7 2905.3) scale(1 1.025)"><text font-size="166" stroke="#000" stroke-width="1.6" >2</text></g>
<g transform="translate(278.7 2494.7) scale(1 1.025)"><text font-size="166" stroke="#000" stroke-width="1.6" >4</text></g>
<g transform="translate(278.7 2084.0) scale(1 1.025)"><text font-size="166" stroke="#000" stroke-width="1.6" >6</text></g>
<g transform="translate(278.7 1673.3) scale(1 1.025)"><text font-size="166" stroke="#000" stroke-width="1.6" >8</text></g>
<path d="M244.5 1262.7L244.5 1143.8L234.4 1143.8C233.4 1153.9 227.1 1164.7 203.5 1167.8L203.5 1178.8L229.6 1178.8L229.6 1262.7Z" fill="#000"/><g transform="translate(278.7 1262.7) scale(1 1.025)"><text font-size="166" stroke="#000" stroke-width="1.6" >0</text></g>
<path d="M244.5 852.0L244.5 733.1L234.4 733.1C233.4 743.3 227.1 754.1 203.5 757.1L203.5 768.2L229.6 768.2L229.6 852.0Z" fill="#000"/><g transform="translate(278.7 852.0) scale(1 1.025)"><text font-size="166" stroke="#000" stroke-width="1.6" >2</text></g>
<path d="M244.5 441.3L244.5 322.5L234.4 322.5C233.4 332.6 227.1 343.4 203.5 346.4L203.5 357.5L229.6 357.5L229.6 441.3Z" fill="#000"/><g transform="translate(278.7 441.3) scale(1 1.025)"><text font-size="166" stroke="#000" stroke-width="1.6" >4</text></g>
<g transform="translate(3252.7 3595.0) scale(1 1.060)"><text font-size="173" stroke="#000" stroke-width="1.6" >PU</text></g>
<g transform="translate(126 174.5) rotate(-90)"><g transform="translate(-1025.7 0.0) scale(1 1.060)"><text font-size="173" stroke="#000" stroke-width="1.6" >HLT</text></g><g transform="translate(-650.8 0.0) scale(1 1.000)"><text font-size="173" stroke="#000" stroke-width="1.6" >rate</text></g><g transform="translate(-309.6 0.0) scale(1 1.060)"><text font-size="173" stroke="#000" stroke-width="1.6" >[H</text></g><g transform="translate(-136.6 0.0) scale(1 1.000)"><text font-size="173" stroke="#000" stroke-width="1.6" >z</text></g><g transform="translate(-50.1 0.0) scale(1 1.060)"><text font-size="173" stroke="#000" stroke-width="1.6" >]</text></g></g>
<path d="M2087.1 145.0L2087.1 26.1L2077.0 26.1C2076.0 36.3 2069.7 47.1 2046.1 50.1L2046.1 61.2L2072.2 61.2L2072.2 145.0Z" fill="#000"/><g transform="translate(2121.3 145.0) scale(1 1.025)"><text font-size="166" stroke="#000" stroke-width="1.6" >4</text></g><g transform="translate(2213.6 145.0) scale(1 1.000)"><text font-size="166" stroke="#000" stroke-width="1.6" >.</text></g><g transform="translate(2259.7 145.0) scale(1 1.025)"><text font-size="166" stroke="#000" stroke-width="1.6" >2</text></g><g transform="translate(2398.2 145.0) scale(1 1.000)"><text font-size="166" stroke="#000" stroke-width="1.6" >fb</text></g>
<rect x="2548" y="49.5" width="53" height="9" fill="#000"/>
<path d="M2650.1 82.0L2650.1 1.1L2643.2 1.1C2642.5 8.0 2638.2 15.3 2622.1 17.4L2622.1 24.9L2639.9 24.9L2639.9 82.0Z" fill="#000"/>
<path d="M2793.4 145.0L2793.4 26.1L2783.3 26.1C2782.3 36.3 2775.9 47.1 2752.4 50.1L2752.4 61.2L2778.4 61.2L2778.4 145.0Z" fill="#000"/><g transform="translate(2680.0 145.0) scale(1 1.060)"><text font-size="166" stroke="#000" stroke-width="1.6" >(</text></g><g transform="translate(2827.6 145.0) scale(1 1.025)"><text font-size="166" stroke="#000" stroke-width="1.6" >3</text></g><g transform="translate(2919.9 145.0) scale(1 1.000)"><text font-size="166" stroke="#000" stroke-width="1.6" >.</text></g><g transform="translate(2966.0 145.0) scale(1 1.025)"><text font-size="166" stroke="#000" stroke-width="1.6" >6</text></g><g transform="translate(3104.5 145.0) scale(1 1.060)"><text font-size="166" stroke="#000" stroke-width="1.6" >T</text></g><g transform="translate(3205.9 145.0) scale(1 1.000)"><text font-size="166" stroke="#000" stroke-width="1.6" >e</text></g><g transform="translate(3298.2 145.0) scale(1 1.060)"><text font-size="166" stroke="#000" stroke-width="1.6" >V)</text></g>
<g transform="translate(546 467.5) scale(1 1.045)"><text font-size="189" font-weight="bold">CMS</text></g>
<g transform="translate(547 628.7) scale(1 1.02)"><text font-size="144" font-style="italic" stroke="#000" stroke-width="1">Preliminary, 2024</text></g>
</svg>
</body></html>
